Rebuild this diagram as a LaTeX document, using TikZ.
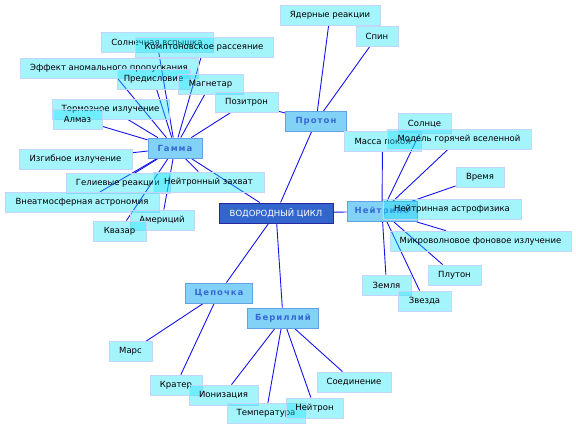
\documentclass[tikz,border=0pt]{standalone}
\usepackage{fontspec}
\setmainfont{DejaVu Sans}
\newfontfamily\topicfont[LetterSpace=12]{DejaVu Sans}
\usepackage{xcolor}
\usepackage{tikz}
\usetikzlibrary{backgrounds}

\definecolor{hubfill}{RGB}{51,102,204}
\definecolor{hubdraw}{RGB}{40,40,160}
\definecolor{topicfill}{RGB}{130,210,248}
\definecolor{topicdraw}{RGB}{100,160,228}
\definecolor{topictext}{RGB}{55,105,210}
\definecolor{leaffill}{RGB}{28,227,247}
\definecolor{leafdraw}{RGB}{196,212,250}
\definecolor{linkblue}{RGB}{20,20,240}

\begin{document}
\begin{tikzpicture}[x=1pt, y=-1pt,
        hub/.style={draw=hubdraw, line width=1pt, fill=hubfill, text=white, inner sep=0pt, minimum height=20pt, font=\fontsize{8.5}{10}\selectfont},
        topic/.style={draw=topicdraw, line width=0.8pt, fill=topicfill, text=topictext, inner sep=0pt, minimum height=20pt, font=\topicfont\bfseries\fontsize{8.5}{10}\selectfont},
        leaf/.style={draw=leafdraw, line width=0.8pt, fill=leaffill, fill opacity=0.4, text opacity=1, text=black, inner sep=0pt, minimum height=20pt, font=\fontsize{8.5}{10}\selectfont},
        link/.style={draw=linkblue, line width=0.9pt}
    ]
    \useasboundingbox (0,0) rectangle (576,429);

    % --- Centre ---
    \node[hub, minimum width=114pt] (cycle) at (276,213) {ВОДОРОДНЫЙ ЦИКЛ};

    % --- Topics ---
    \node[topic, minimum width=54pt] (gamma) at (175,148) {Гамма};
    \node[topic, minimum width=61pt] (proton) at (316,121.5) {Протон};
    \node[topic, minimum width=70pt] (neutrino) at (382,211.5) {Нейтрино};
    \node[topic, minimum width=67pt] (chain) at (219,293) {Цепочка};
    \node[topic, minimum width=71pt] (beryl) at (283,318) {Бериллий};

    % --- Gamma leaves ---
    \node[leaf, minimum width=112pt] (flare) at (157,42) {Солнечная вспышка};
    \node[leaf, minimum width=138pt] (compton) at (204,47) {Комптоновское рассеяние};
    \node[leaf, minimum width=178pt] (anomal) at (109,68) {Эффект аномального пропускания};
    \node[leaf, minimum width=73pt] (preface) at (153.5,79.5) {Предисловие};
    \node[leaf, minimum width=65pt] (magnetar) at (210.5,84) {Магнетар};
    \node[leaf, minimum width=63pt] (positron) at (246.5,102.5) {Позитрон};
    \node[leaf, minimum width=117pt] (brems) at (110.5,109) {Тормозное излучение};
    \node[leaf, minimum width=49pt] (diamond) at (77.5,119) {Алмаз};
    \node[leaf, minimum width=113pt] (curvature) at (75.5,159) {Изгибное излучение};
    \node[leaf, minimum width=104pt] (helium) at (118,183.5) {Гелиевые реакции};
    \node[leaf, minimum width=111pt] (capture) at (208.5,182) {Нейтронный захват};
    \node[leaf, minimum width=154pt] (space) at (82,202.5) {Внеатмосферная астрономия};
    \node[leaf, minimum width=64pt] (americium) at (162,220) {Америций};
    \node[leaf, minimum width=53pt] (quasar) at (119.5,231) {Квазар};

    % --- Proton leaves ---
    \node[leaf, minimum width=100pt] (nuclear) at (330,15) {Ядерные реакции};
    \node[leaf, minimum width=42pt] (spin) at (377,36.5) {Спин};
    \node[leaf, minimum width=77pt] (restmass) at (382.5,141) {Масса покоя};

    % --- Neutrino leaves ---
    \node[leaf, minimum width=53pt] (sun) at (424.5,123.5) {Солнце};
    \node[leaf, minimum width=144pt] (hotmodel) at (459,139) {Модель горячей вселенной};
    \node[leaf, minimum width=48pt] (time) at (480,177.5) {Время};
    \node[leaf, minimum width=138pt] (nastro) at (452,209) {Нейтринная астрофизика};
    \node[leaf, minimum width=181pt] (cmb) at (480.5,241) {Микроволновое фоновое излучение};
    \node[leaf, minimum width=53pt] (pluto) at (454.5,275) {Плутон};
    \node[leaf, minimum width=49pt] (earth) at (386.5,285) {Земля};
    \node[leaf, minimum width=53pt] (star) at (424.5,301) {Звезда};

    % --- Chain and beryllium leaves ---
    \node[leaf, minimum width=43pt] (mars) at (130.5,351.5) {Марс};
    \node[leaf, minimum width=52pt] (crater) at (176,385) {Кратер};
    \node[leaf, minimum width=69pt] (ionisation) at (223.5,395) {Ионизация};
    \node[leaf, minimum width=78pt] (temperature) at (266,413.5) {Температура};
    \node[leaf, minimum width=57pt] (neutron) at (314.5,408) {Нейтрон};
    \node[leaf, minimum width=74pt] (compound) at (354,382) {Соединение};

    % --- Links (behind the boxes) ---
    \begin{scope}[on background layer]
        \draw[link] (cycle) -- (gamma);
        \draw[link] (cycle) -- (proton);
        \draw[link] (cycle) -- (neutrino);
        \draw[link] (cycle) -- (chain);
        \draw[link] (cycle) -- (beryl);

        \draw[link] (gamma) -- (flare);
        \draw[link] (gamma) -- (compton);
        \draw[link] (gamma) -- (anomal);
        \draw[link] (gamma) -- (preface);
        \draw[link] (gamma) -- (magnetar);
        \draw[link] (gamma) -- (positron);
        \draw[link] (gamma) -- (brems);
        \draw[link] (gamma) -- (diamond);
        \draw[link] (gamma) -- (curvature);
        \draw[link] (gamma) -- (helium);
        \draw[link] (gamma) -- (capture);
        \draw[link] (gamma) -- (space);
        \draw[link] (gamma) -- (americium);
        \draw[link] (gamma) -- (quasar);

        \draw[link] (proton) -- (nuclear);
        \draw[link] (proton) -- (spin);
        \draw[link] (proton) -- (restmass);
        \draw[link] (proton) -- (positron);

        \draw[link] (neutrino) -- (restmass);
        \draw[link] (neutrino) -- (sun);
        \draw[link] (neutrino) -- (hotmodel);
        \draw[link] (neutrino) -- (time);
        \draw[link] (neutrino) -- (nastro);
        \draw[link] (neutrino) -- (cmb);
        \draw[link] (neutrino) -- (pluto);
        \draw[link] (neutrino) -- (earth);
        \draw[link] (neutrino) -- (star);

        \draw[link] (chain) -- (mars);
        \draw[link] (chain) -- (crater);

        \draw[link] (beryl) -- (ionisation);
        \draw[link] (beryl) -- (temperature);
        \draw[link] (beryl) -- (neutron);
        \draw[link] (beryl) -- (compound);
    \end{scope}

\end{tikzpicture}
\end{document}
